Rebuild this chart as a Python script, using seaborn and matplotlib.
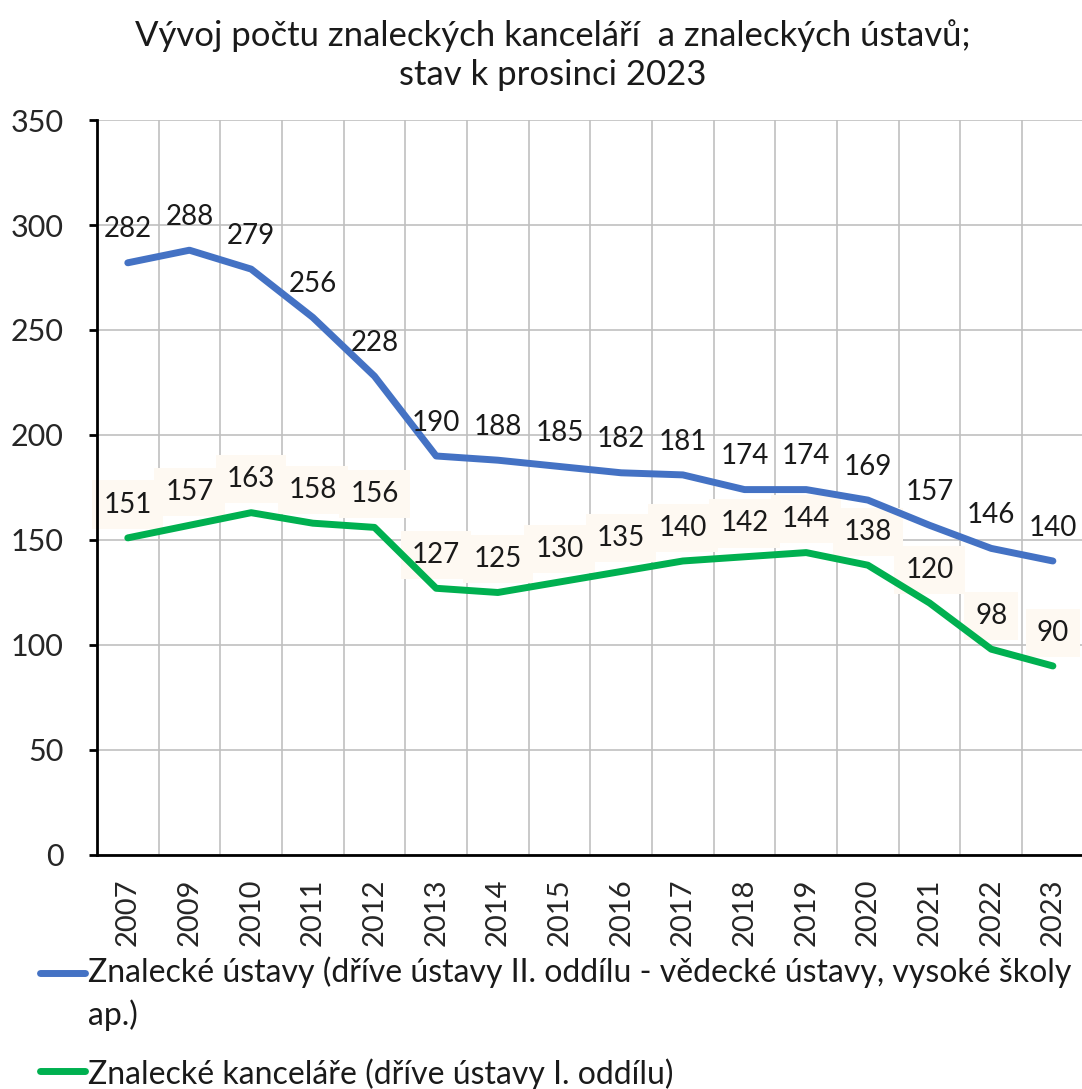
import pandas as pd
import seaborn as sns
import matplotlib.pyplot as plt
from matplotlib.lines import Line2D
from matplotlib.ticker import MultipleLocator

roky = ["2007", "2009", "2010", "2011", "2012", "2013", "2014", "2015",
        "2016", "2017", "2018", "2019", "2020", "2021", "2022", "2023"]
ustavy = [282, 288, 279, 256, 228, 190, 188, 185, 182, 181, 174, 174, 169, 157, 146, 140]
kancelare = [151, 157, 163, 158, 156, 127, 125, 130, 135, 140, 142, 144, 138, 120, 98, 90]

nazev_ustavy = "Znalecké ústavy (dříve ústavy II. oddílu - vědecké ústavy, vysoké školy\nap.)"
nazev_kancelare = "Znalecké kanceláře (dříve ústavy I. oddílu)"
titulek = "Vývoj počtu znaleckých kanceláří  a znaleckých ústavů;\nstav k prosinci 2023"

modra = "#4472C4"
zelena = "#00B050"

df = pd.DataFrame({
    "rok": roky * 2,
    "pocet": ustavy + kancelare,
    "serie": [nazev_ustavy] * len(roky) + [nazev_kancelare] * len(roky),
})

sns.set_theme(style="white")
plt.rcParams["font.family"] = ["Lato", "DejaVu Sans"]

fig = plt.figure(figsize=(10.82, 10.89), dpi=100)
ax = fig.add_axes([0.0896, 0.2149, 0.912, 0.6749])

sns.lineplot(data=df, x="rok", y="pocet", hue="serie",
             palette=[modra, zelena], linewidth=5, sort=False,
             legend=False, ax=ax, zorder=3)

n = len(roky)
ax.set_xlim(-0.5, n - 0.5)
ax.set_ylim(0, 350)
ax.yaxis.set_major_locator(MultipleLocator(50))
ax.set_xticks(range(n))
ax.set_xticklabels(roky, rotation=90, fontsize=21)
ax.set_xticks([i - 0.5 for i in range(n + 1)], minor=True)
ax.tick_params(axis="x", which="major", length=0, pad=17)
ax.tick_params(axis="x", which="minor", length=6, width=2, color="black", direction="out")
ax.tick_params(axis="y", which="major", length=6, width=2, color="black",
               direction="out", labelsize=22, left=True, pad=18)
ax.set_xlabel("")
ax.set_ylabel("")

ax.grid(False)
ax.grid(axis="y", which="major", color="#c0c0c0", linewidth=1.2)
ax.grid(axis="x", which="minor", color="#c0c0c0", linewidth=1.2)
ax.set_axisbelow(True)

for side in ["top", "right"]:
    ax.spines[side].set_visible(False)
for side in ["left", "bottom"]:
    ax.spines[side].set_color("black")
    ax.spines[side].set_linewidth(2)

for i, v in enumerate(ustavy):
    ax.annotate(str(v), (i, v), xytext=(0, 24), textcoords="offset points",
                ha="center", va="center", fontsize=20, color="#1a1a1a", zorder=4)
for i, v in enumerate(kancelare):
    ax.annotate(str(v), (i, v), xytext=(0, 24), textcoords="offset points",
                ha="center", va="center", fontsize=20, color="#1a1a1a", zorder=2.5,
                bbox=dict(boxstyle="square,pad=0.4", facecolor="#fef9f2", edgecolor="none"))

fig.text(0.511, 0.982, titulek, ha="center", va="top", fontsize=25,
         color="#1a1a1a", linespacing=1.25)

# legenda pod grafem
fig.add_artist(Line2D([0.037, 0.079], [1 - 973 / 1089] * 2, color=modra, linewidth=5))
fig.text(0.081, 1 - 956 / 1089, nazev_ustavy, ha="left", va="top", fontsize=23,
         color="#1a1a1a", linespacing=1.45)
fig.add_artist(Line2D([0.037, 0.079], [1 - 1071 / 1089] * 2, color=zelena, linewidth=5))
fig.text(0.081, 1 - 1071 / 1089, nazev_kancelare, ha="left", va="center_baseline",
         fontsize=23, color="#1a1a1a")

fig.savefig("out.png", dpi=100)
